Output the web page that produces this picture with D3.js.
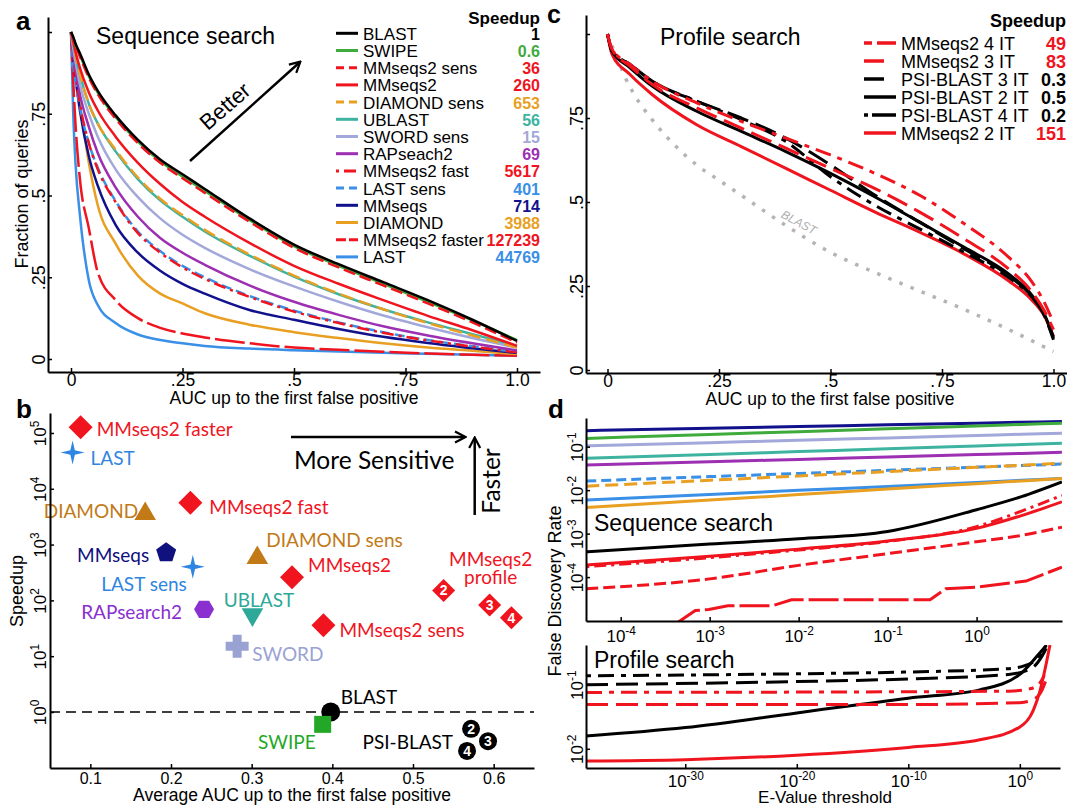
<!DOCTYPE html>
<html>
<head>
<meta charset="utf-8">
<title>Sensitivity and speed benchmark</title>
<script src="https://cdn.jsdelivr.net/npm/d3@7"></script>
<style>
  body { margin: 0; background: #fff; }
  svg { font-family: "Liberation Sans", Arial, sans-serif; }
</style>
</head>
<body>
<svg id="fig" width="1067" height="807"></svg>
<script>
// ---------- a: sequence search, fraction of queries above AUC ----------
var aucGridA = [0, 0.005, 0.01, 0.02, 0.04, 0.06, 0.1, 0.15, 0.2, 0.25, 0.3, 0.4, 0.5, 0.6, 0.7, 0.8, 0.9, 1];
var fracBLAST       = [1, .985, .965, .935, .87, .82, .745, .67, .61, .565, .52, .43, .35, .29, .235, .18, .12, .055];
var fracSWIPE       = [1, .983, .962, .93, .865, .815, .74, .665, .605, .558, .514, .425, .345, .285, .23, .175, .118, .058];
var fracMMs2Sens    = [1, .98, .96, .925, .86, .81, .735, .66, .6, .553, .508, .42, .34, .28, .225, .17, .112, .05];
var fracMMs2        = [1, .97, .94, .89, .815, .76, .68, .6, .535, .48, .435, .355, .285, .23, .18, .132, .088, .04];
var fracDiamondSens = [1, .965, .93, .87, .78, .72, .64, .555, .49, .44, .395, .32, .255, .2, .152, .11, .072, .035];
var fracUBLAST      = [1, .965, .93, .87, .78, .72, .635, .55, .485, .435, .39, .316, .252, .198, .152, .112, .076, .04];
var fracSWORD       = [1, .95, .91, .84, .75, .68, .58, .495, .43, .38, .34, .275, .222, .175, .133, .097, .064, .035];
var fracRAP         = [1, .94, .89, .81, .71, .63, .525, .435, .37, .325, .288, .225, .175, .135, .1, .072, .048, .026];
var fracMMs2Fast    = [1, .93, .87, .78, .66, .58, .48, .385, .325, .28, .245, .19, .145, .11, .08, .057, .038, .02];
var fracLASTSens    = [1, .9, .85, .77, .66, .585, .483, .39, .33, .285, .25, .193, .148, .112, .082, .058, .039, .021];
var fracMMseqs      = [1, .92, .86, .76, .62, .53, .41, .325, .27, .23, .2, .15, .12, .092, .068, .049, .033, .018];
var fracDIAMOND     = [1, .93, .87, .78, .6, .47, .353, .255, .2, .17, .14, .105, .082, .064, .048, .035, .025, .015];
var fracMMs2Faster  = [1, .85, .72, .55, .4, .265, .18, .125, .095, .078, .066, .048, .035, .028, .022, .017, .013, .01];
var fracLAST        = [1, .75, .6, .44, .24, .165, .11, .075, .058, .048, .04, .032, .027, .023, .019, .016, .013, .01];

var seqNames = ["BLAST", "SWIPE", "MMseqs2 sens", "MMseqs2", "DIAMOND sens", "UBLAST", "SWORD sens",
                "RAPseach2", "MMseqs2 fast", "LAST sens", "MMseqs", "DIAMOND", "MMseqs2 faster", "LAST"];
var seqSpeedup = [1, 0.6, 36, 260, 653, 56, 15, 69, 5617, 401, 714, 3988, 127239, 44769];
var seqFrac = [fracBLAST, fracSWIPE, fracMMs2Sens, fracMMs2, fracDiamondSens, fracUBLAST, fracSWORD,
               fracRAP, fracMMs2Fast, fracLASTSens, fracMMseqs, fracDIAMOND, fracMMs2Faster, fracLAST];
var seqDrawOrder = ["LAST", "MMseqs2 faster", "DIAMOND", "MMseqs", "LAST sens", "MMseqs2 fast", "RAPseach2",
                    "SWORD sens", "UBLAST", "DIAMOND sens", "MMseqs2", "SWIPE", "MMseqs2 sens", "BLAST"];

var fracTicks = [0, 0.25, 0.5, 0.75, 1];
var fracXLabels = ["0", ".25", ".5", ".75", "1.0"];
var fracYLabels = ["0", ".25", ".5", ".75", ""];

// ---------- b: speed vs average AUC ----------
var toolNames = ["MMseqs2 faster", "LAST", "DIAMOND", "MMseqs2 fast", "MMseqs", "LAST sens", "DIAMOND sens",
                 "MMseqs2", "RAPsearch2", "UBLAST", "SWORD", "MMseqs2 sens", "BLAST", "SWIPE"];
var toolAuc = [0.088, 0.078, 0.168, 0.224, 0.194, 0.227, 0.307, 0.350, 0.241, 0.301, 0.282, 0.389, 0.398, 0.388];
var toolSpeedup = [127239, 44769, 3988, 5617, 714, 401, 653, 260, 69, 56, 15, 36, 1, 0.6];
var iterLabels = ["2", "3", "4"];
var mmProfAuc = [0.538, 0.595, 0.622];
var mmProfSpeedup = [151, 83, 49];
var psiAuc = [0.572, 0.593, 0.567];
var psiSpeedup = [0.5, 0.3, 0.2];
var avgAucTicks = [0.1, 0.2, 0.3, 0.4, 0.5, 0.6];
var speedTicks = [1, 10, 100, 1000, 10000, 100000];

// ---------- c: profile search ----------
var aucGridC = [0, 0.01, 0.05, 0.1, 0.2, 0.3, 0.4, 0.5, 0.6, 0.7, 0.8, 0.9, 0.95, 0.98, 1];
var fracMM4  = [1, .955, .91, .86, .795, .74, .69, .64, .585, .52, .435, .335, .265, .2, .14];
var fracMM3  = [1, .955, .905, .85, .78, .72, .66, .6, .54, .47, .39, .3, .235, .175, .12];
var fracPSI3 = [1, .95, .91, .86, .8, .75, .69, .61, .52, .44, .36, .28, .22, .16, .09];
var fracPSI2 = [1, .95, .9, .845, .77, .71, .65, .585, .515, .44, .365, .285, .225, .165, .095];
var fracPSI4 = [1, .95, .91, .86, .8, .745, .68, .575, .49, .42, .35, .275, .22, .165, .095];
var fracMM2  = [1, .94, .88, .82, .73, .665, .6, .535, .47, .41, .345, .265, .21, .16, .1];
var profNames = ["MMseqs2 4 IT", "MMseqs2 3 IT", "PSI-BLAST 3 IT", "PSI-BLAST 2 IT", "PSI-BLAST 4 IT", "MMseqs2 2 IT"];
var profSpeedup = [49, 83, 0.3, 0.5, 0.2, 151];
var profFrac = [fracMM4, fracMM3, fracPSI3, fracPSI2, fracPSI4, fracMM2];

// ---------- d: false discovery rate vs E-value ----------
var seqEvalue = [4.1e-5, 1e-3, 1e-2, 1e-1, 1, 3.2, 9.1];
var fdrMMseqs      = [0.234, 0.266, 0.291, 0.318, 0.348, 0.365, 0.38];
var fdrSWIPE       = [0.155, 0.191, 0.222, 0.258, 0.300, 0.324, 0.347];
var fdrSWORD       = [0.104, 0.124, 0.140, 0.159, 0.181, 0.193, 0.204];
var fdrUBLAST      = [0.054, 0.066, 0.077, 0.090, 0.104, 0.112, 0.120];
var fdrRAP         = [0.038, 0.045, 0.051, 0.058, 0.066, 0.070, 0.074];
var fdrLASTSens    = [0.0162, 0.0205, 0.0242, 0.0286, 0.0339, 0.0368, 0.0398];
var fdrDiamondSens = [0.0123, 0.0169, 0.0212, 0.0267, 0.0335, 0.0375, 0.0417];
var fdrLAST        = [0.0059, 0.0079, 0.0099, 0.0122, 0.0151, 0.0169, 0.0186];
var fdrDIAMOND     = [0.0040, 0.0059, 0.0079, 0.0106, 0.0141, 0.0163, 0.0186];
var fdrBLAST       = [3.8e-4, 5.75e-4, 7.6e-4, 1.12e-3, 3.55e-3, 7.1e-3, 0.0155];
var fdrMMs2        = [1.9e-4, 3.0e-4, 4.4e-4, 6.8e-4, 1.32e-3, 2.6e-3, 5.4e-3];
var fdrMMs2Fast    = [1.74e-4, 2.8e-4, 4.2e-4, 6.6e-4, 1.45e-3, 3.3e-3, 7.6e-3];
var fdrMMs2Sens    = [5.4e-5, 9.1e-5, 1.86e-4, 3.47e-4, 6.5e-4, 9.1e-4, 1.41e-3];
var fasterEvalue   = [4.0e-4, 6.9e-4, 9.8e-4, 1.6e-3, 5.1e-3, 8.3e-3, 0.3, 0.45, 1, 3.6, 9.1];
var fdrMMs2Faster  = [8e-6, 1.7e-5, 1.8e-5, 2.2e-5, 2.2e-5, 3.0e-5, 3.0e-5, 5.4e-5, 5.9e-5, 8.1e-5, 1.7e-4];
var seqFdrNames = ["MMseqs", "SWIPE", "SWORD sens", "UBLAST", "RAPseach2", "LAST sens", "DIAMOND sens",
                   "LAST", "DIAMOND", "BLAST", "MMseqs2", "MMseqs2 fast", "MMseqs2 sens"];
var seqFdr = [fdrMMseqs, fdrSWIPE, fdrSWORD, fdrUBLAST, fdrRAP, fdrLASTSens, fdrDiamondSens,
              fdrLAST, fdrDIAMOND, fdrBLAST, fdrMMs2, fdrMMs2Fast, fdrMMs2Sens];

var psi4Evalue = [1.26e-39, 1e-20, 1e-10, 0.1, 3.2, 32, 200];
var fdrPSI4    = [0.138, 0.148, 0.158, 0.178, 0.2, 0.251, 0.398];
var psi3Evalue = [1.26e-39, 1e-20, 1e-10, 0.1, 10, 100, 320];
var fdrPSI3    = [0.1, 0.112, 0.123, 0.145, 0.178, 0.282, 0.417];
var psi2Evalue = [1.26e-39, 1e-30, 1e-20, 1e-10, 2.5e-4, 1, 32, 250];
var fdrPSI2    = [0.0158, 0.0214, 0.0363, 0.0617, 0.0832, 0.145, 0.275, 0.417];
var mm4Evalue  = [1.26e-39, 1e-10, 0.1, 10, 63, 160];
var fdrMM4     = [0.0759, 0.0776, 0.0794, 0.0871, 0.107, 0.141];
var mm3Evalue  = [1.26e-39, 1e-10, 1, 16, 100, 200];
var fdrMM3     = [0.049, 0.049, 0.0525, 0.0589, 0.0832, 0.112];
var mm2Evalue  = [1.26e-39, 1e-30, 1e-20, 1e-10, 2.5e-4, 1, 16, 63, 160, 500];
var fdrMM2     = [0.00646, 0.00676, 0.00794, 0.0105, 0.0138, 0.0219, 0.0398, 0.0794, 0.158, 0.417];
var profFdrNames = ["PSI-BLAST 4 IT", "PSI-BLAST 3 IT", "PSI-BLAST 2 IT", "MMseqs2 4 IT", "MMseqs2 3 IT", "MMseqs2 2 IT"];
var profFdrE = [psi4Evalue, psi3Evalue, psi2Evalue, mm4Evalue, mm3Evalue, mm2Evalue];
var profFdr = [fdrPSI4, fdrPSI3, fdrPSI2, fdrMM4, fdrMM3, fdrMM2];

// ---------- styles ----------
var red = "#f0141e";
var seqStyle = {
    "BLAST":          {color: "#000000"},
    "SWIPE":          {color: "#3fab3c"},
    "MMseqs2 sens":   {color: red, dash: "12,5", ldash: "8,5"},
    "MMseqs2":        {color: red},
    "DIAMOND sens":   {color: "#e89f22", dash: "13,6", ldash: "8,5"},
    "UBLAST":         {color: "#3db3a0"},
    "SWORD sens":     {color: "#a2a8da"},
    "RAPseach2":      {color: "#9c2fb2"},
    "MMseqs2 fast":   {color: red, dash: "3,5,12,5", ldash: "3,5,12,5"},
    "LAST sens":      {color: "#3a8fe6", dash: "10,5", ldash: "8,5"},
    "MMseqs":         {color: "#11118c"},
    "DIAMOND":        {color: "#e89f22"},
    "MMseqs2 faster": {color: red, dash: "30,5", ldash: "10,3"},
    "LAST":           {color: "#3a8fe6"}
};
var profStyle = {
    "MMseqs2 4 IT":   {color: red, dash: "16,7,5,7", ldash: "8,5,19,5"},
    "MMseqs2 3 IT":   {color: red, dash: "22,8", ldash: "20,30"},
    "PSI-BLAST 3 IT": {color: "#000", dash: "22,8", ldash: "20,30"},
    "PSI-BLAST 2 IT": {color: "#000"},
    "PSI-BLAST 4 IT": {color: "#000", dash: "5,7,16,7", ldash: "4,4,25,4"},
    "MMseqs2 2 IT":   {color: red}
};
var toolStyle = {
    "MMseqs2 faster": {color: red, shape: "diamond", label: [16, 2, "start"]},
    "LAST":           {color: "#2f86e2", shape: "star", label: [18, 5.5, "start"]},
    "DIAMOND":        {color: "#c17a16", shape: "up", label: [-7, 0, "end"]},
    "MMseqs2 fast":   {color: red, shape: "diamond", label: [19, 5, "start"]},
    "MMseqs":         {color: "#10107e", shape: "pentagon", label: [-17, 3, "end"]},
    "LAST sens":      {color: "#2f86e2", shape: "star", label: [-6, 18, "end"]},
    "DIAMOND sens":   {color: "#c17a16", shape: "up", label: [9, -15, "start"]},
    "MMseqs2":        {color: red, shape: "diamond", label: [16, -12, "start"]},
    "RAPsearch2":     {color: "#8a2fd0", shape: "hexagon", label: [-22, 3, "end"]},
    "UBLAST":         {color: "#2ea898", shape: "down", label: [-28.6, -14.5, "start"]},
    "SWORD":          {color: "#9aa2d4", shape: "plus", label: [15, 7.5, "start"]},
    "MMseqs2 sens":   {color: red, shape: "diamond", label: [16, 5, "start"]},
    "BLAST":          {color: "#000", shape: "circle", label: [10, -15, "start"]},
    "SWIPE":          {color: "#22a826", shape: "square", label: [-7, 18, "end"]}
};

var svg = d3.select("#fig");
var defs = svg.append("defs");

function clip(id, x0, y0, x1, y1) {
    defs.append("clipPath").attr("id", id).append("rect")
        .attr("x", x0).attr("y", y0).attr("width", x1 - x0).attr("height", y1 - y0);
    return "url(#" + id + ")";
}

defs.append("marker").attr("id", "head")
    .attr("viewBox", "0 0 14 14").attr("refX", 12).attr("refY", 7)
    .attr("markerWidth", 14).attr("markerHeight", 14)
    .attr("markerUnits", "userSpaceOnUse").attr("orient", "auto")
    .append("path").attr("d", "M2,1.5 L12.5,7 L2,12.5")
    .attr("fill", "none").attr("stroke", "#000").attr("stroke-width", 2.2);

function styleAxis(g, size) {
    g.attr("font-family", null).attr("font-size", size);
    g.select(".domain").attr("stroke-width", 2);
    g.selectAll(".tick line").attr("stroke-width", 1.5);
}

function logLabels(g) {
    g.selectAll(".tick text").each(function(d) {
        var t = d3.select(this).text("10");
        t.append("tspan").attr("dy", "-0.55em").attr("font-size", "0.7em")
            .text(Math.round(Math.log10(d)));
    });
}

function rotateY(g, off) {
    g.selectAll(".tick text").attr("transform", "rotate(-90)")
        .attr("x", 0).attr("y", off).attr("dy", null).attr("text-anchor", "middle");
}

function fracAxes(x, y) {
    var gx = svg.append("g").attr("transform", "translate(0," + y.range()[0] + ")")
        .call(d3.axisBottom(x).tickValues(fracTicks).tickFormat((d, i) => fracXLabels[i])
              .tickSizeInner(-4).tickSizeOuter(0));
    gx.selectAll(".tick text").attr("y", 14).attr("dy", null);
    var gy = svg.append("g").attr("transform", "translate(" + x.range()[0] + ",0)")
        .call(d3.axisLeft(y).tickValues(fracTicks).tickFormat((d, i) => fracYLabels[i])
              .tickSizeInner(-4).tickSizeOuter(0));
    rotateY(gy, -3);
    styleAxis(gx, 17.5);
    styleAxis(gy, 18);
}

function logAxes(x, y, xt, yt, ty) {
    var gx = svg.append("g").attr("transform", "translate(0," + y.range()[0] + ")")
        .call(d3.axisBottom(x).tickValues(xt).tickSizeInner(-4).tickSizeOuter(0));
    gx.selectAll(".tick text").attr("y", ty).attr("dy", null);
    logLabels(gx);
    var gy = svg.append("g").attr("transform", "translate(" + x.range()[0] + ",0)")
        .call(d3.axisLeft(y).tickValues(yt).tickSizeInner(-4).tickSizeOuter(0));
    rotateY(gy, -3);
    logLabels(gy);
    styleAxis(gx, 17);
    styleAxis(gy, 17);
}

function drawLine(g, line, pts, st, width) {
    g.append("path").datum(pts).attr("d", line)
        .attr("fill", "none").attr("stroke", st.color).attr("stroke-width", width)
        .attr("stroke-dasharray", st.dash || null);
}

function label(x, y, txt, size, opts) {
    opts = opts || {};
    return svg.append("text").attr("x", x).attr("y", y)
        .attr("font-size", size)
        .attr("font-weight", opts.bold ? "bold" : null)
        .attr("text-anchor", opts.anchor || null)
        .attr("fill", opts.color || "#000")
        .attr("font-family", opts.family || null)
        .text(txt);
}

// ================= panel a =================
var xa = d3.scaleLinear().domain([(48 - 71) / 446, (540 - 71) / 446]).range([48, 540]);
var ya = d3.scaleLinear().domain([(359 - 372) / 327, (359 - 17) / 327]).range([372, 17]);
var lineA = d3.line().x(d => xa(d[0])).y(d => ya(d[1])).curve(d3.curveMonotoneX);
var gA = svg.append("g").attr("clip-path", clip("clipA", 48, 17, 540, 372));
seqDrawOrder.forEach(function(name) {
    var i = seqNames.indexOf(name);
    drawLine(gA, lineA, d3.zip(aucGridA, seqFrac[i]), seqStyle[name], 2.5);
});
fracAxes(xa, ya);

label(16, 30, "a", 26, {bold: true});
label(96, 44, "Sequence search", 23);
svg.append("line").attr("x1", 190).attr("y1", 161).attr("x2", 300).attr("y2", 62)
    .attr("stroke", "#000").attr("stroke-width", 2.5).attr("marker-end", "url(#head)");
label(0, 0, "Better", 22, {anchor: "middle"}).attr("transform", "translate(230,112) rotate(-41)");
label(294, 404, "AUC up to the first false positive", 17.5, {anchor: "middle"});
label(0, 0, "Fraction of queries", 18, {anchor: "middle"}).attr("transform", "translate(28,194) rotate(-90)");

label(540, 24, "Speedup", 17, {bold: true, anchor: "end"});
seqNames.forEach(function(name, i) {
    var cy = 33.3 + i * 17.2;
    var st = seqStyle[name];
    svg.append("line").attr("x1", 336).attr("x2", 358).attr("y1", cy).attr("y2", cy)
        .attr("stroke", st.color).attr("stroke-width", 3).attr("stroke-dasharray", st.ldash || null);
    label(363, cy + 6.5, name, 17);
    label(540, cy + 6.5, seqSpeedup[i], 16, {bold: true, anchor: "end", color: st.color});
});

// ================= panel c =================
var xc = d3.scaleLinear().domain([(586 - 607.5) / 446, (1067 - 607.5) / 446]).range([586, 1067]);
var yc = d3.scaleLinear().domain([(370 - 373) / 336, (370 - 15) / 336]).range([373, 15]);
var lineC = d3.line().x(d => xc(d[0])).y(d => yc(d[1])).curve(d3.curveMonotoneX);
var gC = svg.append("g").attr("clip-path", clip("clipC", 586, 15, 1067, 373));
drawLine(gC, lineC, d3.zip(aucGridA, fracBLAST), {color: "#b4b4b4", dash: "3.5,8.5"}, 3.5);
[5, 3, 4, 2, 1, 0].forEach(function(i) {
    drawLine(gC, lineC, d3.zip(aucGridC, profFrac[i]), profStyle[profNames[i]], 3);
});
fracAxes(xc, yc);

label(547, 23, "c", 25, {bold: true});
label(660, 45, "Profile search", 23);
label(0, 0, "BLAST", 12, {anchor: "middle", color: "#b0b0b0"})
    .attr("font-style", "italic").attr("transform", "translate(797,226) rotate(28)");
label(830, 405, "AUC up to the first false positive", 17.5, {anchor: "middle"});

label(1066, 27, "Speedup", 18, {bold: true, anchor: "end"});
profNames.forEach(function(name, i) {
    var cy = 43 + i * 18;
    var st = profStyle[name];
    svg.append("line").attr("x1", 864).attr("x2", 896).attr("y1", cy).attr("y2", cy)
        .attr("stroke", st.color).attr("stroke-width", 3.5).attr("stroke-dasharray", st.ldash || null);
    label(901, cy + 7, name, 18);
    label(1066, cy + 7, profSpeedup[i], 18, {bold: true, anchor: "end", color: st.color});
});

// ================= panel b =================
var xb = d3.scaleLinear().domain([0.05, 0.65]).range([50, 534]);
var yb = d3.scaleLog().domain([Math.pow(10, -1.004), Math.pow(10, 5.358)]).range([768, 413]);

function polygon(n, r, rot) {
    var pts = d3.range(n).map(function(k) {
        var a = rot + k * 2 * Math.PI / n;
        return [(r * Math.cos(a)).toFixed(2), (r * Math.sin(a)).toFixed(2)];
    });
    return "M" + pts.join("L") + "Z";
}
function star(ro, ri) {
    var pts = d3.range(8).map(function(k) {
        var a = -Math.PI / 2 + k * Math.PI / 4, r = k % 2 ? ri : ro;
        return [(r * Math.cos(a)).toFixed(2), (r * Math.sin(a)).toFixed(2)];
    });
    return "M" + pts.join("L") + "Z";
}
var shapes = {
    diamond: polygon(4, 12, 0),
    star: star(12, 3.2),
    up: "M0,-9.5L10.8,9L-10.8,9Z",
    down: polygon(3, 12.5, Math.PI / 2),
    pentagon: polygon(5, 10.5, -Math.PI / 2),
    hexagon: polygon(6, 10, 0),
    plus: "M-4.5,-11.5h9v7h7v9h-7v7h-9v-7h-7v-9h7z",
    circle: d3.symbol(d3.symbolCircle, Math.PI * 9.5 * 9.5)(),
    square: "M-8.5,-8.5h17v17h-17z"
};

svg.append("line").attr("x1", 50).attr("x2", 534).attr("y1", yb(1)).attr("y2", yb(1))
    .attr("stroke", "#000").attr("stroke-width", 1.5).attr("stroke-dasharray", "10,6");

toolNames.forEach(function(name, i) {
    var st = toolStyle[name];
    var cx = xb(toolAuc[i]), cy = yb(toolSpeedup[i]);
    svg.append("path").attr("d", shapes[st.shape])
        .attr("transform", "translate(" + cx + "," + cy + ")").attr("fill", st.color);
    label(cx + st.label[0], cy + st.label[1], name, 19, {anchor: st.label[2], color: st.color, family: "Lato"})
        .attr("dy", "0.35em");
});

iterLabels.forEach(function(it, i) {
    var cx = xb(mmProfAuc[i]), cy = yb(mmProfSpeedup[i]);
    svg.append("path").attr("d", polygon(4, 11.5, 0))
        .attr("transform", "translate(" + cx + "," + cy + ")").attr("fill", red);
    label(cx, cy + 5, it, 14, {bold: true, anchor: "middle", color: "#fff"});
    var px = xb(psiAuc[i]), py = yb(psiSpeedup[i]);
    svg.append("circle").attr("cx", px).attr("cy", py).attr("r", 9).attr("fill", "#000");
    label(px, py + 5, it, 14, {bold: true, anchor: "middle", color: "#fff"});
});
var p2x = xb(mmProfAuc[0]), p2y = yb(mmProfSpeedup[0]);
label(p2x + 47, p2y - 31, "MMseqs2", 19, {anchor: "middle", color: red, family: "Lato"}).attr("dy", "0.35em");
label(p2x + 47, p2y - 13, "profile", 19, {anchor: "middle", color: red, family: "Lato"}).attr("dy", "0.35em");
label(xb(psiAuc[0]) - 18, yb(psiSpeedup[0]) + 14, "PSI-BLAST", 19, {anchor: "end", family: "Lato"}).attr("dy", "0.35em");

var gbx = svg.append("g").attr("transform", "translate(0,768)")
    .call(d3.axisBottom(xb).tickValues(avgAucTicks).tickFormat(d3.format(".1f")).tickSizeInner(-4).tickSizeOuter(0));
gbx.selectAll(".tick text").attr("y", 16).attr("dy", null);
var gby = svg.append("g").attr("transform", "translate(50,0)")
    .call(d3.axisLeft(yb).tickValues(speedTicks).tickSizeInner(-4).tickSizeOuter(0));
rotateY(gby, -4.5);
logLabels(gby);
styleAxis(gbx, 16);
styleAxis(gby, 17);

label(16, 418, "b", 26, {bold: true});
label(292, 801, "Average AUC up to the first false positive", 17.5, {anchor: "middle"});
label(0, 0, "Speedup", 18, {anchor: "middle"}).attr("transform", "translate(22.5,591) rotate(-90)");
svg.append("line").attr("x1", 291).attr("y1", 437).attr("x2", 465).attr("y2", 437)
    .attr("stroke", "#000").attr("stroke-width", 2.5).attr("marker-end", "url(#head)");
svg.append("line").attr("x1", 474.7).attr("y1", 515).attr("x2", 474.7).attr("y2", 438)
    .attr("stroke", "#000").attr("stroke-width", 2.5).attr("marker-end", "url(#head)");
label(294, 469, "More Sensitive", 24.5, {family: "Lato"});
label(0, 0, "Faster", 24.5, {anchor: "middle", family: "Lato"}).attr("transform", "translate(500,481) rotate(-90)");

// ================= panel d =================
var xd1 = d3.scaleLog().domain([Math.pow(10, -4.39), Math.pow(10, 0.96)]).range([586, 1062]);
var yd1 = d3.scaleLog().domain([Math.pow(10, -5.01), Math.pow(10, -0.34)]).range([621, 418]);
var xd2 = d3.scaleLog().domain([Math.pow(10, -38.9), Math.pow(10, 3.6)]).range([586, 1060]);
var yd2 = d3.scaleLog().domain([Math.pow(10, -2.3), Math.pow(10, -0.38)]).range([768, 645]);

var lineD1 = d3.line().x(d => xd1(d[0])).y(d => yd1(d[1])).curve(d3.curveMonotoneX);
var gD1 = svg.append("g").attr("clip-path", clip("clipD1", 586, 418, 1062, 621));
seqFdrNames.forEach(function(name, i) {
    drawLine(gD1, lineD1, d3.zip(seqEvalue, seqFdr[i]), seqStyle[name], 3);
});
drawLine(gD1, lineD1.curve(d3.curveLinear), d3.zip(fasterEvalue, fdrMMs2Faster), seqStyle["MMseqs2 faster"], 3);
logAxes(xd1, yd1, [1e-4, 1e-3, 1e-2, 1e-1, 1], [1e-4, 1e-3, 1e-2, 1e-1], 21);

var lineD2 = d3.line().x(d => xd2(d[0])).y(d => yd2(d[1])).curve(d3.curveMonotoneX);
var gD2 = svg.append("g").attr("clip-path", clip("clipD2", 586, 645, 1060, 768));
profFdrNames.forEach(function(name, i) {
    drawLine(gD2, lineD2, d3.zip(profFdrE[i], profFdr[i]), profStyle[name], 3);
});
logAxes(xd2, yd2, [1e-30, 1e-20, 1e-10, 1], [1e-2, 1e-1], 19);

label(548, 418, "d", 26, {bold: true});
label(594, 531, "Sequence search", 23);
label(594, 668, "Profile search", 23);
label(825, 803, "E-Value threshold", 17, {anchor: "middle"});
label(0, 0, "False Discovery Rate", 18, {anchor: "middle"}).attr("transform", "translate(561,591) rotate(-90)");
</script>
</body>
</html>
